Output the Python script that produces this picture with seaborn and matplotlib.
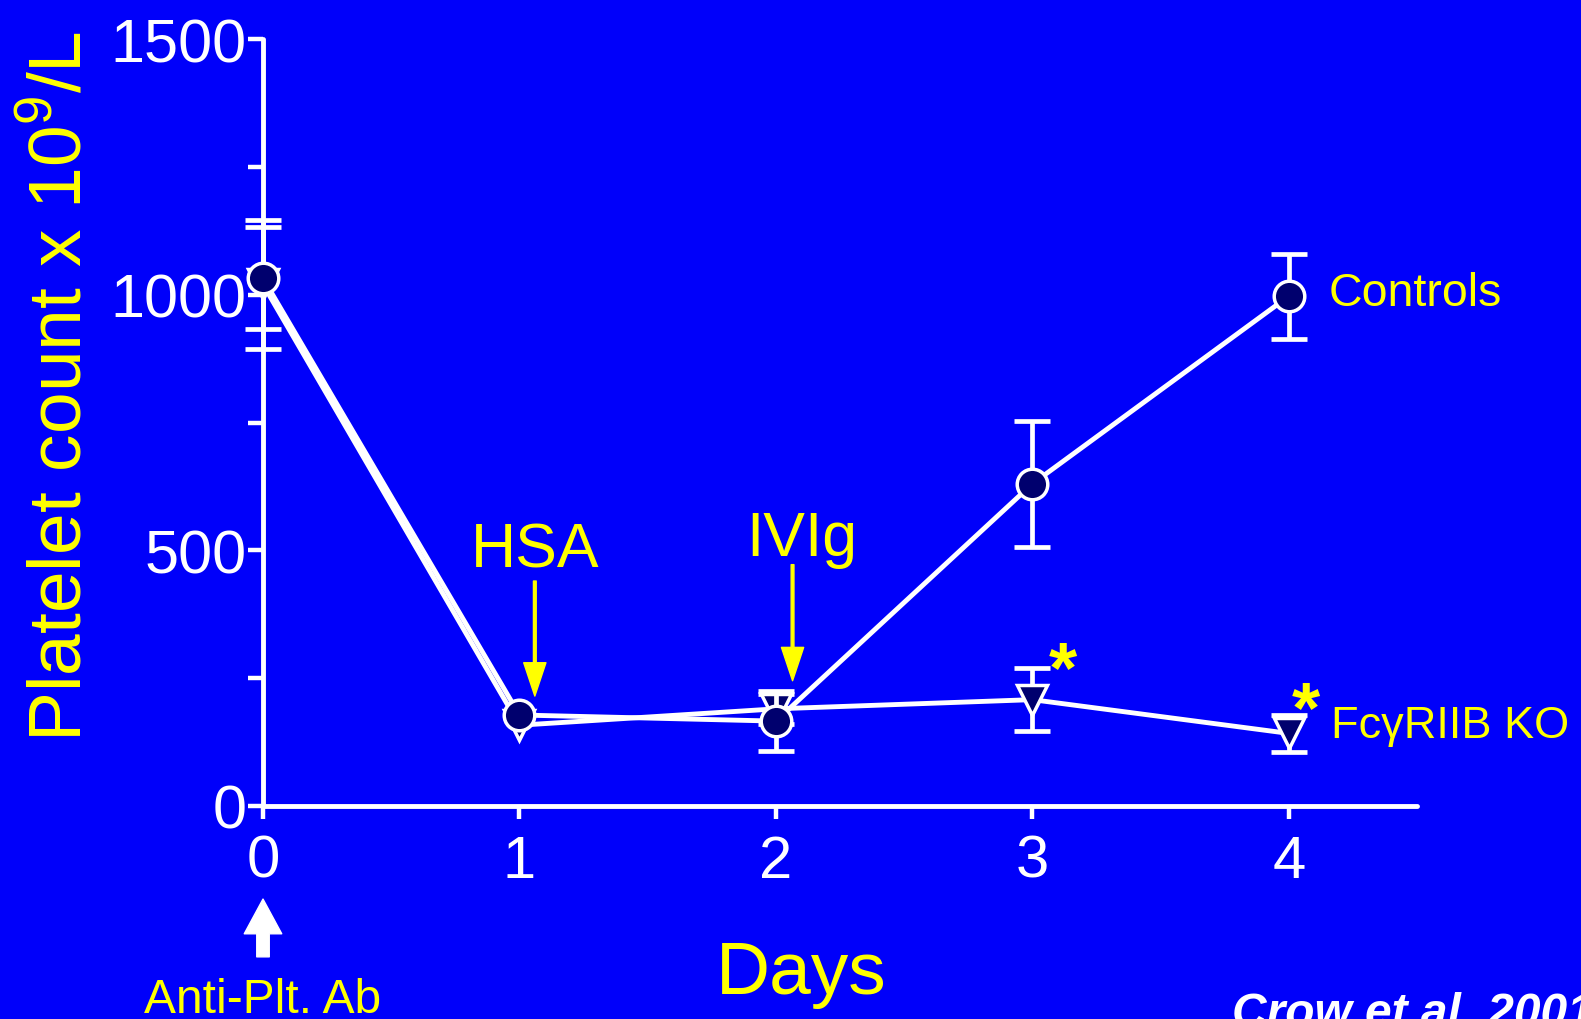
import matplotlib
matplotlib.use("Agg")
import matplotlib.pyplot as plt
import seaborn as sns
import numpy as np

# Platelet counts (x 10^9/L) by day; no visible error bar on day 1
days = [0, 1, 2, 3, 4]
controls_mean = [1032, 178, 166, 630, 997]
controls_err = [100, np.nan, 58, 123, 83]
ko_mean = [1020, 158, 190, 208, 142]
ko_err = [126, np.nan, 30, 62, 36]

x_ticks = [0, 1, 2, 3, 4]
y_ticks = [0, 500, 1000, 1500]
y_minor = [250, 750, 1250]

BLUE = "#0000FA"
YELLOW = "#FFFF00"
NAVY = "#00006E"
WHITE = "white"

sns.set_theme(style="white")
plt.rcParams["font.family"] = ["Liberation Sans", "DejaVu Sans"]
plt.rcParams["mathtext.fontset"] = "custom"
plt.rcParams["mathtext.rm"] = "Liberation Sans"

fig = plt.figure(figsize=(15.81, 10.20), dpi=100, facecolor=BLUE)
ax = fig.add_axes([263 / 1581, 1 - 807 / 1020, (1417 - 263) / 1581, (807 - 40) / 1020])
ax.set_facecolor(BLUE)

# error bars
ax.errorbar(days, ko_mean, yerr=ko_err, fmt="none", ecolor=WHITE,
            elinewidth=3.4, capsize=13, capthick=3.4, zorder=3, clip_on=False)
ax.errorbar(days, controls_mean, yerr=controls_err, fmt="none", ecolor=WHITE,
            elinewidth=3.4, capsize=13, capthick=3.4, zorder=5, clip_on=False)

# series lines with markers
sns.lineplot(x=days, y=ko_mean, ax=ax, color=WHITE, lw=3.5, marker="v",
             markersize=21, markerfacecolor=NAVY, markeredgecolor=WHITE,
             markeredgewidth=2.5, zorder=4, clip_on=False)
sns.lineplot(x=days, y=controls_mean, ax=ax, color=WHITE, lw=3.5, marker="o",
             markersize=22, markerfacecolor=NAVY, markeredgecolor=WHITE,
             markeredgewidth=2.5, zorder=6, clip_on=False)

ax.set_xlim(0, 4.5)
ax.set_ylim(0, 1500)
ax.set_xticks(x_ticks)
ax.set_yticks(y_ticks)
ax.set_yticks(y_minor, minor=True)
ax.set_xticklabels([str(t) for t in x_ticks])
ax.set_yticklabels([str(t) for t in y_ticks])

for side in ["top", "right"]:
    ax.spines[side].set_visible(False)
for side in ["left", "bottom"]:
    ax.spines[side].set_color(WHITE)
    ax.spines[side].set_linewidth(3.5)
    ax.spines[side].set_capstyle("round")

ax.tick_params(axis="x", which="major", direction="out", length=9, width=3.2,
               color=WHITE, labelcolor=WHITE, labelsize=43, pad=11, bottom=True)
ax.tick_params(axis="y", which="both", direction="out", length=11, width=3.2,
               color=WHITE, labelcolor=WHITE, labelsize=44, pad=1, left=True)
ax.grid(False)

# axis titles
fig.text(61 / 1581, 1 - 386 / 1020, "Platelet count x 10$^{9}$/L", rotation=90,
         ha="center", va="center", color=YELLOW, fontsize=54)
ax.text(2.1, -365, "Days", ha="center", va="baseline", color=YELLOW,
        fontsize=54, clip_on=False)

# treatment annotations
ax.text(1.06, 468, "HSA", ha="center", va="baseline", color=YELLOW, fontsize=45)
ax.text(2.1, 491, "IVIg", ha="center", va="baseline", color=YELLOW, fontsize=45)
ax.annotate("", xy=(1.06, 215), xytext=(1.06, 440),
            arrowprops=dict(width=2, headwidth=16, headlength=24,
                            facecolor=YELLOW, edgecolor=YELLOW), zorder=7)
ax.annotate("", xy=(2.065, 245), xytext=(2.065, 472),
            arrowprops=dict(width=2, headwidth=16, headlength=24,
                            facecolor=YELLOW, edgecolor=YELLOW), zorder=7)

# series labels and significance marks
ax.text(4.154, 1003, "Controls", ha="left", va="center", color=YELLOW, fontsize=33.5)
ax.text(4.165, 158, "Fc\u03b3RIIB KO", ha="left", va="center", color=YELLOW,
        fontsize=32.5, clip_on=False)
ax.text(3.12, 262, "*", ha="center", va="center", color=YELLOW, fontsize=52,
        fontweight="bold")
ax.text(4.067, 184, "*", ha="center", va="center", color=YELLOW, fontsize=52,
        fontweight="bold")

# antibody injection marker
ax.annotate("", xy=(0, -182), xytext=(0, -295), annotation_clip=False,
            arrowprops=dict(width=9, headwidth=27, headlength=25,
                            facecolor=WHITE, edgecolor=WHITE))
ax.text(0, -403, "Anti-Plt. Ab", ha="center", va="baseline", color=YELLOW,
        fontsize=34.5, clip_on=False)

# citation
fig.text(1232 / 1581, 1 - 1027 / 1020, "Crow et al. 2001", ha="left",
         va="baseline", color=WHITE, fontsize=34.5, fontweight="bold",
         fontstyle="italic")

fig.savefig("out.png", dpi=100, facecolor=BLUE)
